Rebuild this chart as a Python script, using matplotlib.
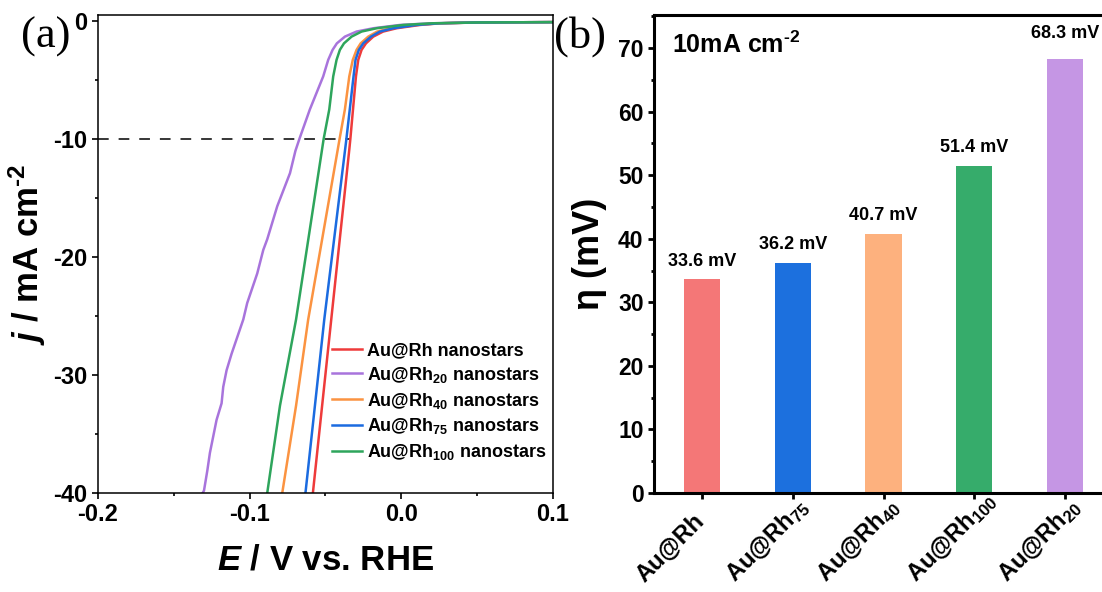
import matplotlib
matplotlib.use('Agg')
import matplotlib.pyplot as plt
from matplotlib.ticker import MultipleLocator
from matplotlib.transforms import ScaledTranslation

plt.rcParams['font.family'] = ['Liberation Sans', 'DejaVu Sans']
plt.rcParams['font.weight'] = 'bold'
plt.rcParams['axes.labelweight'] = 'bold'
plt.rcParams['mathtext.fontset'] = 'custom'
plt.rcParams['mathtext.rm'] = 'Liberation Sans:bold'
plt.rcParams['mathtext.bf'] = 'Liberation Sans:bold'
plt.rcParams['mathtext.it'] = 'Liberation Sans:bold:italic'
plt.rcParams['mathtext.default'] = 'bf'
plt.rcParams['axes.unicode_minus'] = False

# ---- (a) LSV polarization curves ----
E_rh = [-0.0583, -0.0462, -0.0343, -0.0336, -0.0299, -0.0284, -0.0262, -0.0233,
        -0.0185, -0.0120, -0.0031, 0.0123, 0.0255, 0.05, 0.1]
j_rh = [-40, -25.3, -10.9, -10, -4.7, -3.3, -2.45, -1.9,
        -1.33, -0.9, -0.62, -0.34, -0.2, -0.13, -0.1]

E_rh75 = [-0.0632, -0.0508, -0.0362, -0.0315, -0.0302, -0.028, -0.0251, -0.020,
          -0.0141, -0.0053, 0.0101, 0.025, 0.05, 0.1]
j_rh75 = [-40, -25.3, -10, -4.7, -3.3, -2.45, -1.9, -1.33,
          -0.9, -0.62, -0.34, -0.2, -0.13, -0.1]

E_rh40 = [-0.0785, -0.0694, -0.0614, -0.0407, -0.0372, -0.0343, -0.032, -0.0295,
          -0.0268, -0.0218, -0.0159, -0.0075, 0.0077, 0.025, 0.05, 0.1]
j_rh40 = [-40, -32.6, -25.3, -10, -7.5, -4.7, -3.3, -2.45,
          -1.9, -1.33, -0.9, -0.62, -0.34, -0.2, -0.13, -0.1]

E_rh100 = [-0.0884, -0.080, -0.0694, -0.0512, -0.0475, -0.0449, -0.0427, -0.0405,
           -0.0378, -0.0328, -0.0262, -0.0163, 0.0013, 0.02, 0.05, 0.1]
j_rh100 = [-40, -32.6, -25.3, -10, -7.5, -4.7, -3.3, -2.45,
           -1.9, -1.33, -0.9, -0.62, -0.34, -0.2, -0.13, -0.1]

E_rh20 = [-0.131, -0.1301, -0.1279, -0.1262, -0.124, -0.1218, -0.1185, -0.1174,
          -0.1152, -0.1119, -0.1042, -0.1016, -0.0987, -0.095, -0.091, -0.0884,
          -0.0818, -0.0734, -0.0698, -0.0672, -0.0603, -0.0515, -0.0482, -0.0453,
          -0.0425, -0.0372, -0.0295, -0.0185, -0.0009, 0.02, 0.05, 0.1]
j_rh20 = [-40, -39.8, -38.1, -36.6, -35.2, -33.8, -32.4, -31.0,
          -29.6, -28.2, -25.3, -23.9, -22.8, -21.4, -19.4, -18.5,
          -15.7, -12.9, -11.0, -10, -7.5, -4.7, -3.3, -2.45,
          -1.9, -1.33, -0.9, -0.62, -0.34, -0.2, -0.13, -0.1]

# ---- (b) overpotential at 10 mA cm-2 ----
bar_names = ['Au@Rh', r'Au@Rh$_{75}$', r'Au@Rh$_{40}$', r'Au@Rh$_{100}$', r'Au@Rh$_{20}$']
eta = [33.6, 36.2, 40.7, 51.4, 68.3]

line_colors = {'rh': '#ee3b3b', 'rh20': '#a874dc', 'rh40': '#fb9341',
               'rh75': '#1b6be0', 'rh100': '#2ea55c'}
bar_colors = ['#f47777', '#1c70de', '#fdb17e', '#36ac6b', '#c596e4']

fig = plt.figure(figsize=(11.02, 5.92), dpi=100)

# ================= panel (a) =================
ax1 = fig.add_axes([0.0889, 0.1672, 0.4129, 0.8074])
ax1.plot([-0.2, -eta[0] / 1000], [-10, -10], color='k', lw=1.1, dashes=(7, 6.5))
ax1.plot(E_rh, j_rh, color=line_colors['rh'], lw=1.8, label='Au@Rh nanostars')
ax1.plot(E_rh20, j_rh20, color=line_colors['rh20'], lw=1.8, label=r'Au@Rh$_{20}$ nanostars')
ax1.plot(E_rh40, j_rh40, color=line_colors['rh40'], lw=1.8, label=r'Au@Rh$_{40}$ nanostars')
ax1.plot(E_rh75, j_rh75, color=line_colors['rh75'], lw=1.8, label=r'Au@Rh$_{75}$ nanostars')
ax1.plot(E_rh100, j_rh100, color=line_colors['rh100'], lw=1.8, label=r'Au@Rh$_{100}$ nanostars')

ax1.set_xlim(-0.2, 0.1)
ax1.set_ylim(-40, 0.5)
ax1.xaxis.set_major_locator(MultipleLocator(0.1))
ax1.xaxis.set_minor_locator(MultipleLocator(0.05))
ax1.yaxis.set_major_locator(MultipleLocator(10))
ax1.yaxis.set_minor_locator(MultipleLocator(5))
ax1.tick_params(which='both', direction='out', top=False, right=False, width=1.2)
ax1.tick_params(which='major', length=4.5, labelsize=17, pad=3)
ax1.tick_params(which='minor', length=2.5)
for s in ax1.spines.values():
    s.set_linewidth(1.1)
ax1.set_xlabel(r'$\mathit{E}$ / V vs. RHE', fontsize=25, labelpad=12)
ax1.set_ylabel(r'$\mathit{j}$ / mA cm$^{\text{-}2}$', fontsize=25, labelpad=4)

leg = ax1.legend(loc='upper left', bbox_to_anchor=(0.514, 0.316), frameon=False,
                 fontsize=13, handlelength=1.65, handletextpad=0.3,
                 labelspacing=0.32, borderaxespad=0, borderpad=0)

# ================= panel (b) =================
ax2 = fig.add_axes([0.5935, 0.1672, 0.4165, 0.8074])
xpos = list(range(len(eta)))
ax2.bar(xpos, eta, width=0.4, color=bar_colors)
for i, v in enumerate(eta):
    ax2.annotate(f'{v:.1f} mV', (i, v), xytext=(0, 15 if i == 4 else 10),
                 textcoords='offset points', ha='center', va='baseline',
                 fontsize=13, fontweight='bold')

ax2.set_xlim(-0.53, 4.53)
ax2.set_ylim(0, 75.2)
ax2.yaxis.set_major_locator(MultipleLocator(10))
ax2.yaxis.set_minor_locator(MultipleLocator(5))
ax2.set_xticks(xpos)
ax2.set_xticklabels([])
ax2.tick_params(which='both', direction='out', top=False, right=False, width=2)
ax2.tick_params(which='major', length=4.5, labelsize=16.5, pad=3)
ax2.tick_params(which='minor', length=2.5)
for s in ax2.spines.values():
    s.set_linewidth(2.2)

# rotated category names, anchored at their start like the original
off = ScaledTranslation(-0.58, -0.90, fig.dpi_scale_trans)
for i, name in enumerate(bar_names):
    ax2.text(i, 0, name, transform=ax2.get_xaxis_transform() + off,
             rotation=45, rotation_mode='anchor', ha='left', va='baseline',
             fontsize=17, fontweight='bold')

ax2.set_ylabel('η (mV)', fontsize=26, labelpad=8)
ax2.text(0.039, 0.92, r'10mA cm$^{\text{-}2}$', transform=ax2.transAxes,
         fontsize=18, fontweight='bold', va='baseline')

fig.text(0.019, 0.9375, '(a)', family='Liberation Serif', fontweight='normal',
         fontsize=32, va='center')
fig.text(0.5027, 0.9375, '(b)', family='Liberation Serif', fontweight='normal',
         fontsize=32, va='center')

fig.savefig('out.png', dpi=100)
